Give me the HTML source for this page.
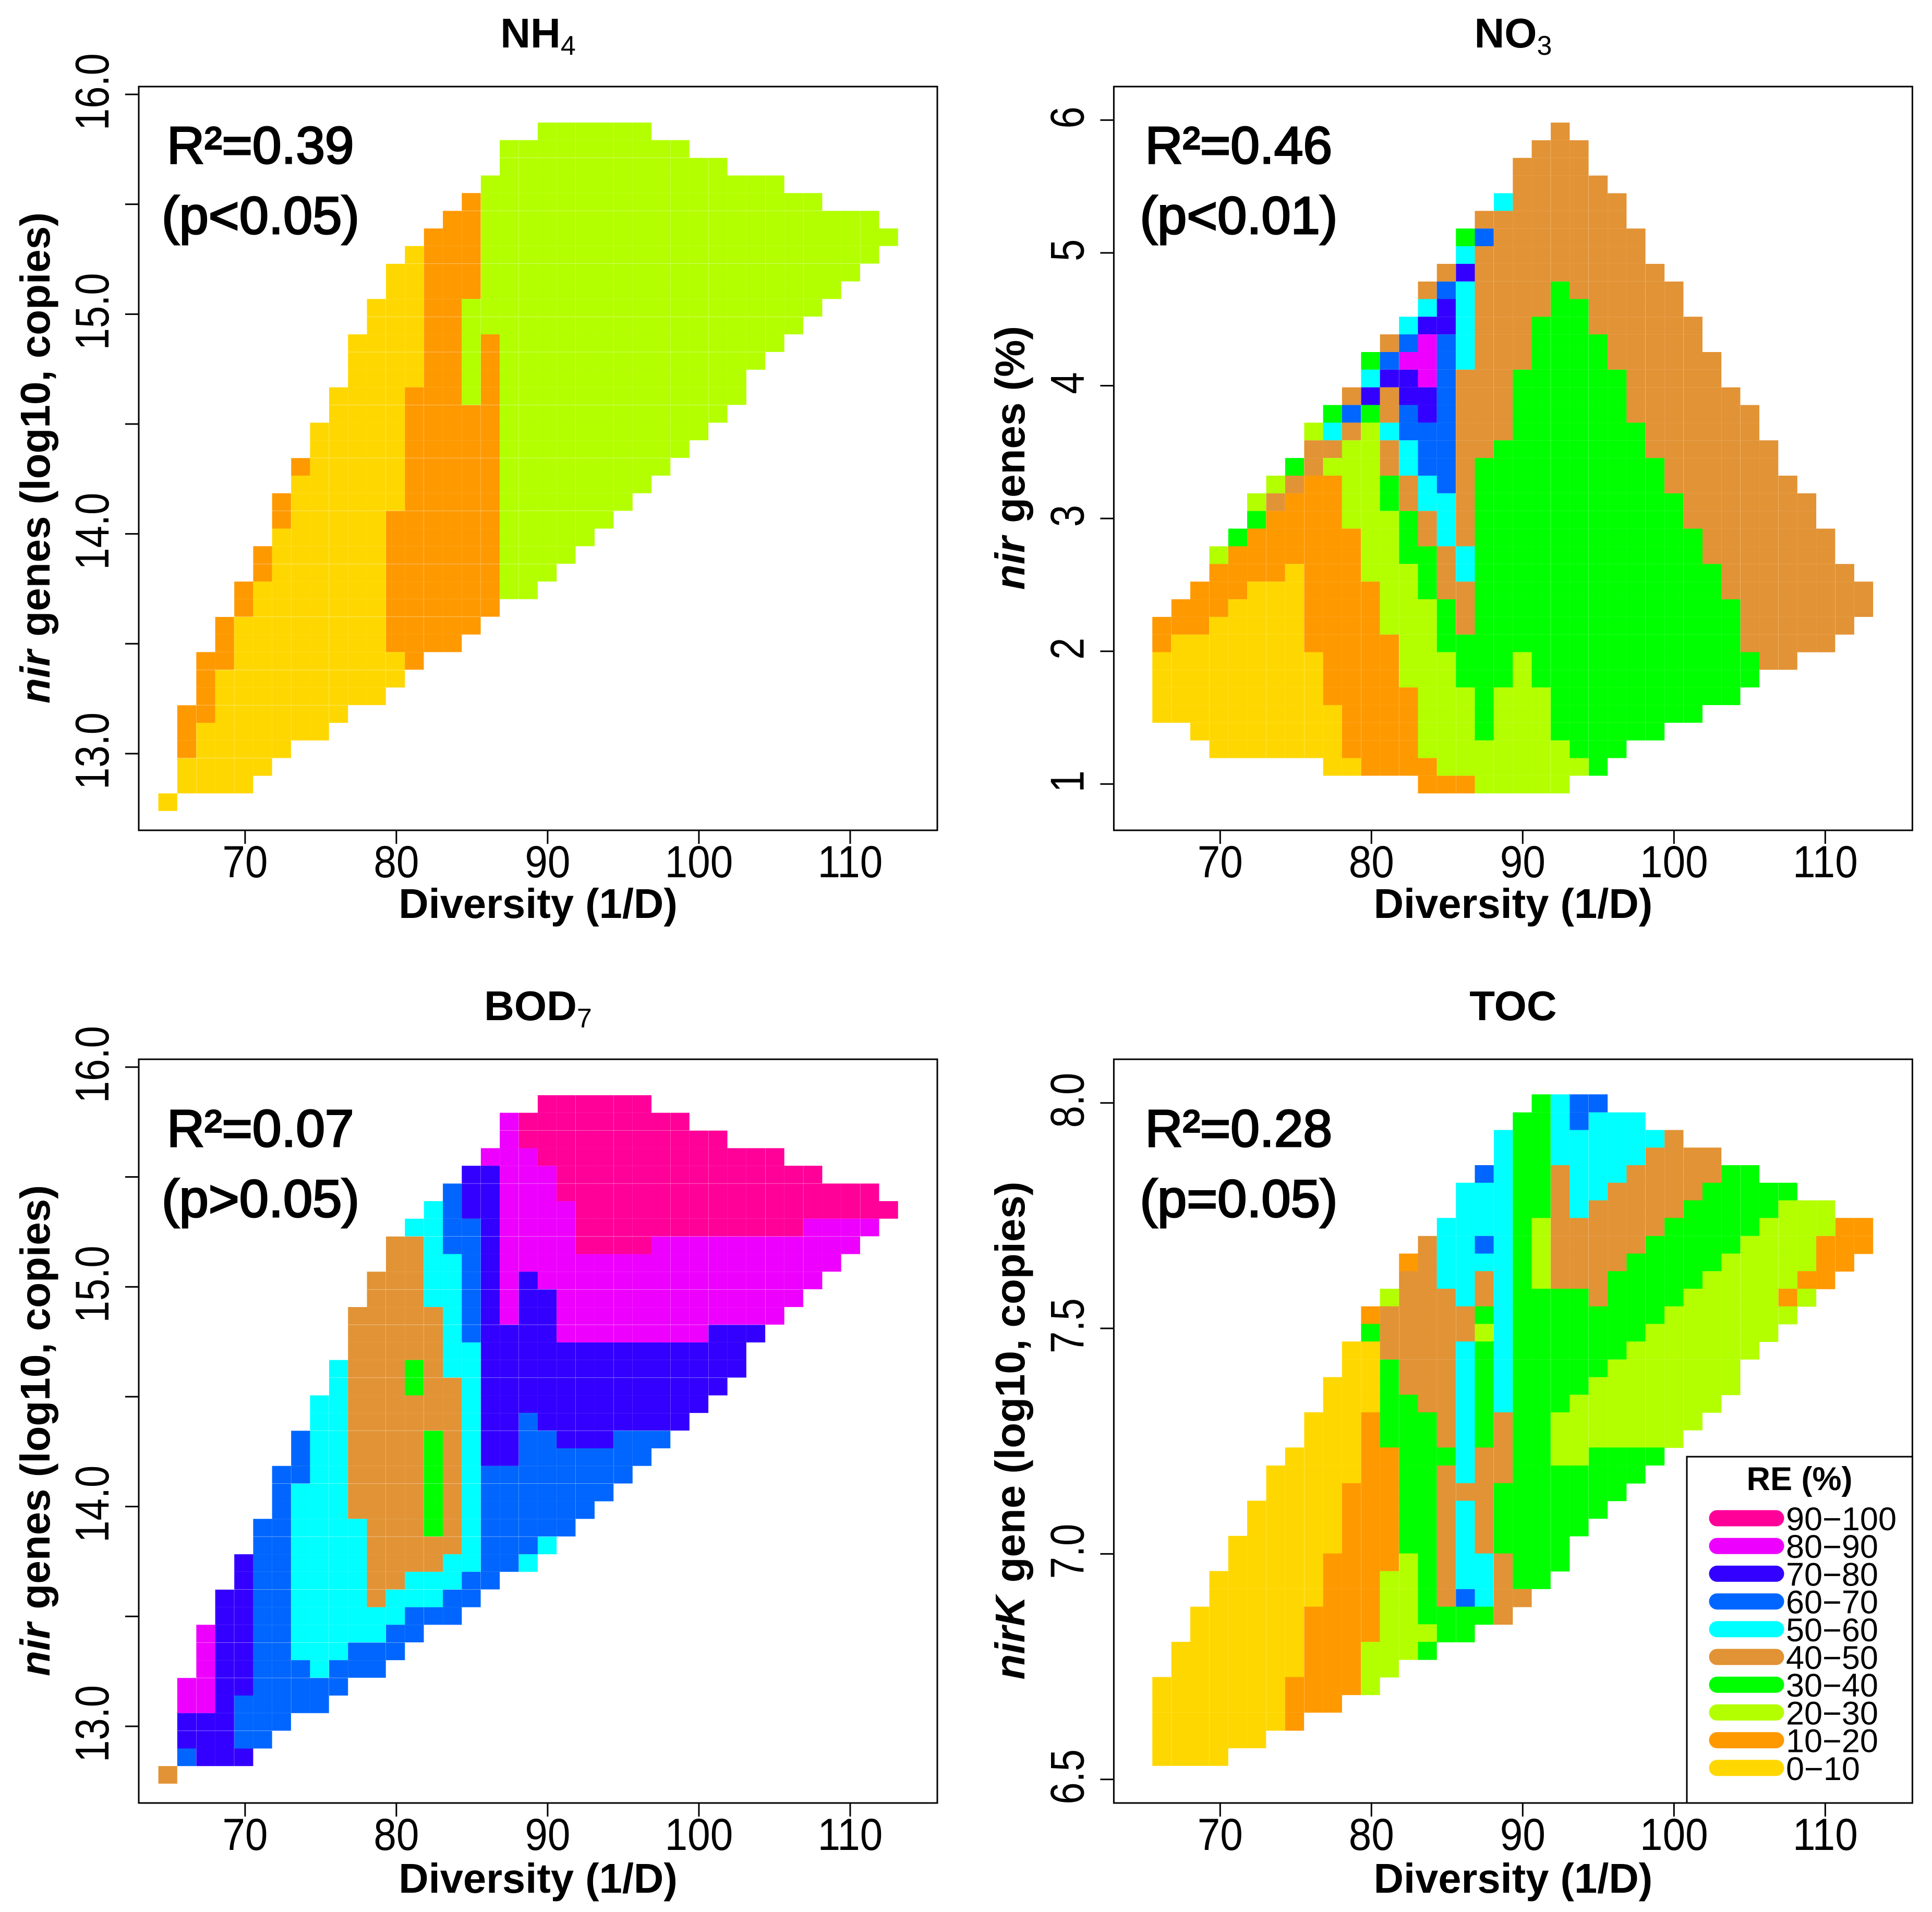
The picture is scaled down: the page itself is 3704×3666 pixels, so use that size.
<!DOCTYPE html>
<html lang="en">
<head>
<meta charset="utf-8">
<title>RE heatmaps</title>
<style>
html,body{margin:0;padding:0;background:#fff;}
svg{display:block;}
text{font-family:"Liberation Sans",Arial,sans-serif;fill:#000;}
</style>
</head>
<body>
<svg id="chart" xmlns="http://www.w3.org/2000/svg" width="3704" height="3666" viewBox="0 0 3704 3666"></svg>
<script>
const diversityValues = [64.89,66.14,67.40,68.65,69.91,71.16,72.41,73.67,74.92,76.18,77.43,78.68,79.94,81.19,82.45,83.70,84.95,86.21,87.46,88.72,89.97,91.22,92.48,93.73,94.99,96.24,97.49,98.75,100.00,101.26,102.51,103.76,105.02,106.27,107.53,108.78,110.03,111.29,112.54];
const nirCopiesValues = [15.832,15.752,15.671,15.591,15.511,15.430,15.350,15.270,15.189,15.109,15.029,14.948,14.868,14.787,14.707,14.627,14.546,14.466,14.386,14.305,14.225,14.145,14.064,13.984,13.904,13.823,13.743,13.663,13.582,13.502,13.422,13.341,13.261,13.180,13.100,13.020,12.939,12.859,12.779];
const nirPercentValues = [5.915,5.782,5.649,5.516,5.383,5.250,5.117,4.984,4.851,4.718,4.586,4.453,4.320,4.187,4.054,3.921,3.788,3.655,3.522,3.389,3.256,3.123,2.990,2.857,2.724,2.591,2.458,2.325,2.192,2.059,1.927,1.794,1.661,1.528,1.395,1.262,1.129,0.996,0.863];
const nirKCopiesValues = [7.999,7.959,7.920,7.881,7.842,7.803,7.764,7.725,7.685,7.646,7.607,7.568,7.529,7.490,7.451,7.411,7.372,7.333,7.294,7.255,7.216,7.176,7.137,7.098,7.059,7.020,6.981,6.942,6.902,6.863,6.824,6.785,6.746,6.707,6.668,6.628,6.589,6.550,6.511];

const xTicks = [70,80,90,100,110];
const xTickLabels = ["70","80","90","100","110"];
const copiesTicks = [13,13.5,14,14.5,15,15.5,16];
const copiesTickLabels = ["13.0","","14.0","","15.0","","16.0"];
const percentTicks = [1,2,3,4,5,6];
const percentTickLabels = ["1","2","3","4","5","6"];
const nirKTicks = [6.5,7,7.5,8];
const nirKTickLabels = ["6.5","7.0","7.5","8.0"];

const binColors = ["#FFD700","#FF9900","#B3FF00","#00FF00","#E29335","#00FFFF","#0066FF","#3300FF","#EE00FF","#FF0099"];
const legendLabels = ["90\u2212100","80\u221290","70\u221280","60\u221270","50\u221260","40\u221250","30\u221240","20\u221230","10\u221220","0\u221210"];
const legendBins = [9,8,7,6,5,4,3,2,1,0];

const nh4Cells = [
"20-25:2","18-27:2","18-29:2","17-32:2","16:1 17-34:2","15-16:1 17-37:2","14-16:1 17-38:2","13:0 14-16:1 17-37:2",
"12-13:0 14-16:1 17-36:2","12-13:0 14-16:1 17-35:2","11-13:0 14-15:1 16-34:2","11-13:0 14-15:1 16-33:2",
"10-13:0 14-15:1 16:2 17:1 18-32:2","10-13:0 14-15:1 16:2 17:1 18-31:2","10-13:0 14-15:1 16:2 17:1 18-30:2",
"9-12:0 13-15:1 16:2 17:1 18-30:2","9-12:0 13-17:1 18-29:2","8-12:0 13-17:1 18-28:2","8-12:0 13-17:1 18-27:2",
"7:1 8-12:0 13-17:1 18-26:2","7-12:0 13-17:1 18-25:2","6:1 7-12:0 13-17:1 18-24:2","6:1 7-11:0 12-17:1 18-23:2",
"6-11:0 12-17:1 18-22:2","5:1 6-11:0 12-17:1 18-21:2","5:1 6-11:0 12-17:1 18-20:2","4:1 5-11:0 12-17:1 18-19:2",
"4:1 5-11:0 12-17:1","3:1 4-11:0 12-16:1","3:1 4-11:0 12-15:1","2-3:1 4-12:0 13:1","2:1 3-12:0","2:1 3-11:0",
"1-2:1 3-9:0","1:1 2-8:0","1:1 2-6:0","1-5:0","1-4:0","0:0"];

const no3Cells = [
"22:4","21-23:4","20-23:4","20-24:4","19:5 20-25:4","18-25:4","17:3 18:6 19-26:4","17:5 18-26:4","16:4 17:7 18-27:4",
"15:4 16:6 17:5 18-21:4 22:3 23-28:4","15:5 16:7 17:5 18-21:4 22-23:3 24-28:4","14:5 15-16:7 17:5 18-20:4 21-23:3 24-29:4",
"13:4 14:6 15:8 16:6 17:5 18-20:4 21-24:3 25-29:4","12:3 13:6 14-15:8 16:6 17:5 18-20:4 21-24:3 25-30:4",
"12:5 13-14:7 15:8 16:6 17-19:4 20-25:3 26-30:4","11:4 12:7 13:4 14-15:7 16:6 17-19:4 20-25:3 26-31:4",
"10:3 11:6 12:3 13:4 14:6 15:7 16:6 17-19:4 20-25:3 26-32:4","9:2 10:5 11:4 12:2 13:5 14-16:6 17-19:4 20-26:3 27-32:4",
"9-10:4 11-12:2 13:4 14:5 15-16:6 17-18:4 19-26:3 27-33:4","8:3 9:4 10-12:2 13:4 14:5 15-16:6 17:4 18-27:3 28-33:4",
"7:2 8:4 9-10:1 11-12:2 13:3 14:4 15:5 16:6 17:4 18-27:3 28-34:4","6:2 7:4 8-10:1 11-12:2 13:3 14:4 15-16:5 17:4 18-28:3 29-35:4",
"6:3 7-10:1 11-13:2 14:3 15:4 16:5 17:4 18-28:3 29-35:4","5:3 6-11:1 12-13:2 14:3 15:4 16:5 17:4 18-29:3 30-36:4",
"4:2 5-11:1 12-13:2 14-15:3 16:4 17:5 18-29:3 30-36:4","4-7:1 8:0 9-11:1 12-14:2 15:3 16:4 17:5 18-30:3 31-37:4",
"3-5:1 6-8:0 9-12:1 13-14:2 15:3 16-17:4 18-30:3 31-38:4","2-4:1 5-8:0 9-12:1 13-15:2 16:3 17:4 18-31:3 32-38:4",
"1-3:1 4-8:0 9-12:1 13-15:2 16:3 17:4 18-31:3 32-37:4","1:1 2-8:0 9-13:1 14-15:2 16-31:3 32-36:4",
"1-9:0 10-13:1 14-16:2 17-19:3 20:2 21-32:3 33-34:4","1-9:0 10-13:1 14-16:2 17-19:3 20:2 21-32:3",
"1-9:0 10-14:1 15-17:2 18:3 19-21:2 22-31:3","1-10:0 11-14:1 15-17:2 18:3 19-21:2 22-29:3",
"3-10:0 11-14:1 15-17:2 18:3 19-21:2 22-27:3","4-10:0 11-14:1 15-22:2 23-25:3","10-11:0 12-15:1 16-23:2 24:3","15-17:1 18-22:2",""];

const bod7Cells = [
"20-25:9","18:8 19-27:9","18:8 19-29:9","17-19:8 20-32:9","16-17:7 18-20:8 21-34:9","15:6 16-17:7 18-20:8 21-37:9",
"14:5 15:6 16-17:7 18-21:8 22-38:9","13-14:5 15-16:6 17:7 18-21:8 22-33:9 34-37:8","12-13:4 14:5 15-16:6 17:7 18-21:8 22-25:9 26-36:8",
"12-13:4 14-15:5 16:6 17:7 18-35:8","11-13:4 14-15:5 16:6 17:7 18:8 19:7 20-34:8","11-13:4 14-15:5 16:6 17:7 18:8 19-20:7 21-33:8",
"10-14:4 15:5 16:6 17:7 18:8 19-20:7 21-32:8","10-14:4 15:5 16:6 17-20:7 21-28:8 29-31:7","10-14:4 15-16:5 17-30:7",
"9:5 10-12:4 13:3 14:4 15-16:5 17-30:7","9:5 10-12:4 13:3 14-15:4 16:5 17-29:7","8-9:5 10-15:4 16:5 17-28:7",
"8-9:5 10-15:4 16:5 17-18:7 19:6 20-27:7","7:6 8-9:5 10-13:4 14:3 15:4 16:5 17-18:7 19-20:6 21-23:7 24-26:6",
"7:6 8-9:5 10-13:4 14:3 15:4 16:5 17-18:7 19-25:6","6-7:6 8-9:5 10-13:4 14:3 15:4 16:5 17-24:6",
"6:6 7-9:5 10-13:4 14:3 15:4 16:5 17-23:6","6:6 7-9:5 10-13:4 14:3 15:4 16:5 17-22:6","5-6:6 7-10:5 11-13:4 14:3 15:4 16:5 17-21:6",
"5-6:6 7-10:5 11-15:4 16:5 17-19:6 20:5","4:7 5-6:6 7-10:5 11-14:4 15-16:5 17-18:6 19:5","4:7 5-6:6 7-10:5 11-12:4 13-15:5 16-17:6",
"3-4:7 5-6:6 7-10:5 11:4 12-14:5 15-16:6","3-4:7 5-6:6 7-12:5 13-15:6","2:8 3-4:7 5-6:6 7-11:5 12-13:6","2:8 3-4:7 5-6:6 7-9:5 10-12:6",
"2:8 3-4:7 5-7:6 8:5 9-11:6","1-2:8 3-4:7 5-9:6","1-2:8 3:7 4-8:6","1-3:7 4-6:6","1-3:7 4-5:6","1:6 2-4:7","0:4"];

const tocCells = [
"21:3 22:5 23-24:6","20-21:3 22:5 23:6 24-26:5","19:5 20-21:3 22-27:5 28:4","19:5 20-21:3 22-26:5 27-30:4",
"18:6 19:5 20-21:3 22:4 23-25:5 26-30:4 31-32:3","17-19:5 20-21:3 22:4 23-24:5 25-29:4 30-34:3",
"17-19:5 20-21:3 22:4 23:5 24-28:4 29-33:3 34-36:2","16-19:5 20:3 21:2 22-27:4 28-32:3 33-36:2 37-38:1",
"15:4 16-17:5 18:6 19:5 20:3 21:2 22-26:4 27-31:3 32-35:2 36-38:1","14:1 15:4 16-19:5 20:3 21:2 22-25:4 26-30:3 31-35:2 36-37:1",
"14-15:4 16-17:5 18:4 19:5 20:3 21:2 22-24:4 25-29:3 30-34:2 35-36:1","13:2 14-16:4 17:5 18:4 19:5 20-23:3 24:4 25-28:3 29-33:2 34:1 35:2",
"12:1 13-17:4 18:3 19:5 20-27:3 28-34:2","12:3 13-17:4 18:2 19:5 20-26:3 27-33:2","11-12:0 13-16:4 17:5 18:3 19:5 20-25:3 26-32:2",
"11-12:0 13:3 14-16:4 17:5 18:3 19:5 20-24:3 25-31:2","10-12:0 13:3 14-16:4 17:5 18:3 19:5 20-23:3 24-31:2",
"10-12:0 13-14:3 15-16:4 17:5 18:3 19:5 20-22:3 23-30:2","9-11:0 12:1 13-15:3 16:4 17:5 18:3 19:4 20-21:3 22-29:2",
"9-11:0 12:1 13-15:3 16:4 17:5 18:3 19:4 20-21:3 22-28:2","8-11:0 12-13:1 14-16:3 17:5 18-19:4 20-21:3 22-23:2 24-27:3",
"7-11:0 12-13:1 14-15:3 16:4 17:5 18-19:4 20-26:3","7-10:0 11-13:1 14-15:3 16-18:4 19-25:3","6-10:0 11-13:1 14-15:3 16:4 17:5 18:4 19-24:3",
"6-10:0 11-13:1 14-15:3 16:4 17:5 18:4 19-23:3","5-10:0 11-13:1 14-15:3 16:4 17:5 18:4 19-22:3","5-9:0 10-13:1 14:2 15:3 16:4 17-18:5 19:4 20-22:3",
"4-9:0 10-12:1 13-14:2 15:3 16:4 17-18:5 19:4 20-21:3","4-9:0 10-12:1 13-14:2 15:3 16:4 17:6 18:5 19-20:4","3-8:0 9-12:1 13-14:2 15-18:3 19:4",
"3-8:0 9-12:1 13-15:2 16-17:3","2-8:0 9-11:1 12-14:2 15:3","2-8:0 9-11:1 12-13:2","1-7:0 8-11:1 12:2","1-7:0 8-10:1","1-7:0 8:1","1-6:0","1-4:0",""];

const svg = document.getElementById('chart');
const NS = 'http://www.w3.org/2000/svg';

function make(tag, parent, props) {
  const el = document.createElementNS(NS, tag);
  for (const k in props) el.setAttribute(k, props[k]);
  parent.appendChild(el);
  return el;
}

function drawPanel(p) {
  const g = make('g', svg, {});
  
  

  const xScale = v => p.left + (v - 62.97) * (p.width / (115.76 - 62.97));
  const yScale = v => p.top + (p.yMax - v) * (p.height / (p.yMax - p.yMin));

  const cellW = Math.abs(xScale(p.xs[1]) - xScale(p.xs[0]));
  const cellH = Math.abs(yScale(p.ys[1]) - yScale(p.ys[0]));

  p.cells.forEach((row, r) => {
    if (!row) return;
    row.split(' ').forEach(run => {
      const parts = run.split(':');
      const range = parts[0].split('-').map(Number);
      const last = range.length > 1 ? range[1] : range[0];
      for (let c = range[0]; c <= last; c++) {
        const rect = make('rect', g, {
          x: (xScale(p.xs[c]) - cellW / 2).toFixed(2),
          y: (yScale(p.ys[r]) - cellH / 2).toFixed(2),
          width: cellW.toFixed(2),
          height: cellH.toFixed(2),
          fill: binColors[+parts[1]]
        });
        
        
      }
    });
  });

  const box = make('rect', g, {x: p.left, y: p.top, width: p.width, height: p.height, fill: 'none', stroke: '#000', 'stroke-width': 3});
  
  

  const bottom = p.top + p.height;
  xTicks.forEach((v, i) => {
    const x = xScale(v);
    const tick = make('line', g, {x1: x, x2: x, y1: bottom, y2: bottom + 26, stroke: '#000', 'stroke-width': 3});
    
    
    const label = make('text', g, {transform: 'translate(' + x + ',' + (bottom + p.xLabelDy) + ') scale(1.03,1.14)', 'text-anchor': 'middle', 'font-size': 76});
    label.textContent = xTickLabels[i];
    
    
  });
  p.yTicks.forEach((v, i) => {
    const y = yScale(v);
    const tick = make('line', g, {x1: p.left - 26, x2: p.left, y1: y, y2: y, stroke: '#000', 'stroke-width': 3});
    
    
    if (p.yTickLabels[i]) {
      const label = make('text', g, {transform: 'translate(' + (p.left - 58) + ',' + (y - 5) + ') rotate(-90) scale(1,1.2)', 'text-anchor': 'middle', 'font-size': 76});
      label.textContent = p.yTickLabels[i];
      
      
    }
  });

  const xTitle = make('text', g, {x: p.left + p.width / 2, y: bottom + p.xTitleDy, 'text-anchor': 'middle', 'font-size': 79.5, 'font-weight': 'bold'});
  xTitle.textContent = 'Diversity (1/D)';
  
  

  const yTitle = make('text', g, {transform: 'translate(' + p.yTitleX + ',' + (p.top + 712) + ') rotate(-90)', 'text-anchor': 'middle', 'font-size': 80, 'font-weight': 'bold'});
  
  
  const italicPart = make('tspan', yTitle, {'font-style': 'italic'});
  italicPart.textContent = p.yTitleItalic;
  const restPart = make('tspan', yTitle, {dx: 26});
  restPart.textContent = p.yTitleRest;

  const title = make('text', g, {x: p.left + p.width / 2, y: p.top - 75, 'text-anchor': 'middle', 'font-size': 80, 'font-weight': 'bold'});
  
  
  const titleMain = make('tspan', title, {});
  titleMain.textContent = p.title;
  if (p.titleSub) {
    const titleSub = make('tspan', title, {dy: 14, 'font-size': 52, 'font-weight': 'normal'});
    titleSub.textContent = p.titleSub;
  }

  const r2 = make('text', g, {x: p.left + p.noteDx, y: p.top + p.noteDy, 'font-size': 100, stroke: '#000', 'stroke-width': 3});
  r2.textContent = p.r2;
  
  
  const pv = make('text', g, {x: p.left + p.noteDx - 10, y: p.top + p.noteDy + 135, 'font-size': 101, stroke: '#000', 'stroke-width': 3});
  pv.textContent = p.pval;
  
  
}

drawPanel({key:'nh4', left:266, top:166, width:1531, height:1426, yMax:16.0356, yMin:12.651,
  xs:diversityValues, ys:nirCopiesValues, cells:nh4Cells, yTicks:copiesTicks, yTickLabels:copiesTickLabels,
  title:'NH', titleSub:'4', yTitleX:95, yTitleItalic:'nir', yTitleRest:'genes (log10, copies)', r2:'R\u00B2=0.39', pval:'(p<0.05)', noteDx:54, noteDy:147, xLabelDy:90, xTitleDy:168});
drawPanel({key:'no3', left:2135.4, top:166, width:1531, height:1426, yMax:6.2526, yMin:0.6516,
  xs:diversityValues, ys:nirPercentValues, cells:no3Cells, yTicks:percentTicks, yTickLabels:percentTickLabels,
  title:'NO', titleSub:'3', yTitleX:1964, yTitleItalic:'nir', yTitleRest:'genes (%)', r2:'R\u00B2=0.46', pval:'(p<0.01)', noteDx:60, noteDy:147, xLabelDy:90, xTitleDy:168});
drawPanel({key:'bod7', left:266, top:2031, width:1531, height:1426, yMax:16.0356, yMin:12.651,
  xs:diversityValues, ys:nirCopiesValues, cells:bod7Cells, yTicks:copiesTicks, yTickLabels:copiesTickLabels,
  title:'BOD', titleSub:'7', yTitleX:95, yTitleItalic:'nir', yTitleRest:'genes (log10, copies)', r2:'R\u00B2=0.07', pval:'(p>0.05)', noteDx:54, noteDy:167, xLabelDy:90, xTitleDy:172});
drawPanel({key:'toc', left:2135.4, top:2031, width:1531, height:1426, yMax:8.0968, yMin:6.4477,
  xs:diversityValues, ys:nirKCopiesValues, cells:tocCells, yTicks:nirKTicks, yTickLabels:nirKTickLabels,
  title:'TOC', titleSub:'', yTitleX:1964, yTitleItalic:'nirK', yTitleRest:'gene (log10, copies)', r2:'R\u00B2=0.28', pval:'(p=0.05)', noteDx:60, noteDy:167, xLabelDy:90, xTitleDy:172});

const legend = make('g', svg, {});


const legendBox = make('rect', legend, {x:3234, y:2793, width:432.4, height:664, fill:'#fff', stroke:'#000', 'stroke-width':3});


const legendTitle = make('text', legend, {x:3450, y:2857, 'text-anchor':'middle', 'font-size':63, 'font-weight':'bold'});
legendTitle.textContent = 'RE (%)';


legendLabels.forEach((label, i) => {
  const y = 2911 + i * 53.2;
  const swatch = make('line', legend, {x1:3292, x2:3405, y1:y, y2:y, stroke:binColors[legendBins[i]], 'stroke-width':31, 'stroke-linecap':'round'});
  
  
  const text = make('text', legend, {x:3424, y:y + 23, 'font-size':63});
  text.textContent = label;
  
  
});
</script>
</body>
</html>
